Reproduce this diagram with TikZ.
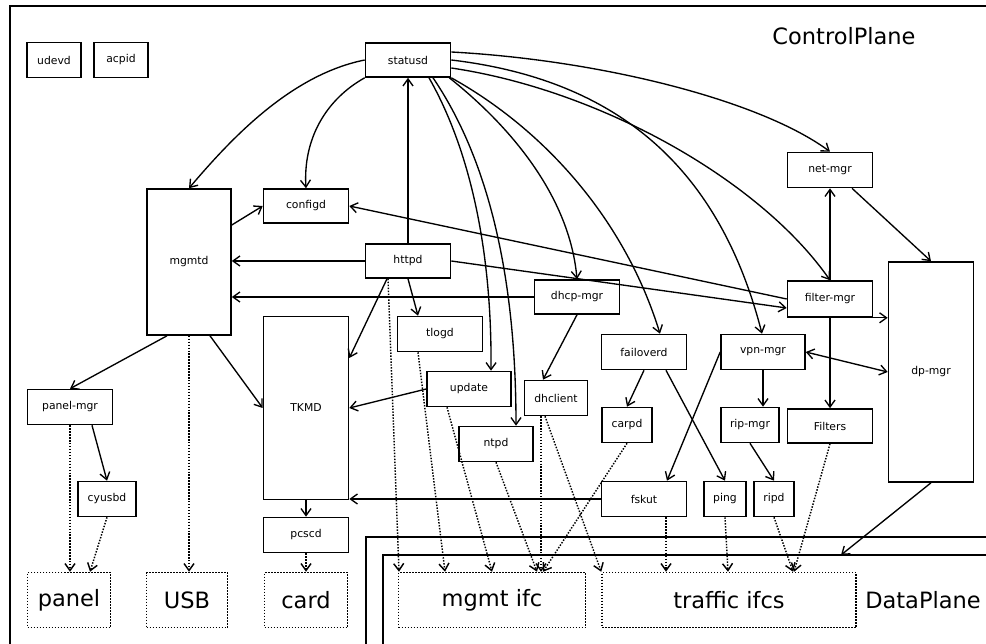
\documentclass[tikz,border=0pt]{standalone}
\usepackage{fontspec}
\setmainfont{DejaVu Sans}
\usetikzlibrary{arrows.meta,calc}
\begin{document}
\begin{tikzpicture}[x=1pt,y=-1pt,
 box/.style={draw, line width=1.6pt, inner sep=0pt, font=\fontsize{10.8}{12}\selectfont, minimum height=35pt, minimum width=85pt},
 dbox/.style={draw, line width=1.5pt, dash pattern=on 1.5pt off 1.5pt, inner sep=0pt, minimum height=55pt, font=\fontsize{22.5}{26}\selectfont},
 big/.style={inner sep=0pt, font=\fontsize{22.5}{26}\selectfont},
 conn/.style={line width=1.35pt, -{Straight Barb[length=7pt,width=10pt]}},
 dconn/.style={line width=1.45pt, dash pattern=on 1.45pt off 1.5pt, -{Straight Barb[length=7pt,width=10pt]}},
 bconn/.style={line width=1.35pt, {Straight Barb[length=7pt,width=10pt]}-{Straight Barb[length=7pt,width=10pt]}},
 plane/.style={draw, line width=1.6pt}
]
\useasboundingbox (0,0) rectangle (986,644);
\fill[white] (0,0) rectangle (986,644);
\clip (0,0) rectangle (986,644);

% planes
\draw[plane] (10,6) rectangle (1010,700);
\draw[plane] (366,537) rectangle (1010,700);
\draw[plane] (383,555) rectangle (1010,700);
\coordinate (dpin) at (841,555);
\node[big] (cplabel) at (844,36) {ControlPlane};
\node[big] (dplabel) at (923,600) {DataPlane};

% nodes
\node[box, minimum width=54pt] (udevd) at (54,60) {udevd};
\node[box, minimum width=54pt] (acpid) at (121,60) {acpid};
\node[box, minimum height=34pt] (statusd) at (408,60) {statusd};
\node[box] (netmgr) at (830,170) {net-mgr};
\node[box, minimum height=34pt] (configd) at (306,206) {configd};
\node[box, minimum width=84pt, minimum height=146pt] (mgmtd) at (189,262) {mgmtd};
\node[box, minimum height=34pt] (httpd) at (408,261) {httpd};
\node[box] (tlogd) at (440,334) {tlogd};
\node[box, minimum height=34pt] (dhcpmgr) at (577,297) {dhcp-mgr};
\node[box, minimum height=183pt] (tkmd) at (306,408) {TKMD};
\node[box, minimum width=84pt] (update) at (469,389) {update};
\node[box, minimum width=63pt] (dhclient) at (556,398) {dhclient};
\node[box, minimum width=74pt] (ntpd) at (496,444) {ntpd};
\node[box] (failoverd) at (644,352) {failoverd};
\node[box, minimum width=84pt] (vpnmgr) at (763,352) {vpn-mgr};
\node[box, minimum width=50pt] (carpd) at (627,425) {carpd};
\node[box, minimum width=58pt] (ripmgr) at (750,425) {rip-mgr};
\node[box, minimum height=34pt] (filters) at (830,426) {Filters};
\node[box] (fskut) at (644,499) {fskut};
\node[box, minimum width=42pt] (ping) at (725,499) {ping};
\node[box, minimum width=40pt] (ripd) at (774,499) {ripd};
\node[box, minimum height=36pt] (filtermgr) at (830,299) {filter-mgr};
\node[box, minimum height=220pt] (dpmgr) at (931,372) {dp-mgr};
\node[box] (panelmgr) at (70,407) {panel-mgr};
\node[box, minimum width=58pt] (cyusbd) at (107,499) {cyusbd};
\node[box] (pcscd) at (306,535) {pcscd};
\node[dbox, minimum width=83pt] (panel) at (69,600) {panel};
\node[dbox, minimum width=81pt] (usb) at (187,600) {USB};
\node[dbox, minimum width=83pt] (card) at (306,600) {card};
\node[dbox, minimum width=187pt] (mgmtifc) at (492,600) {mgmt ifc};
\node[dbox, minimum width=254pt] (trafficifcs) at (729,600) {traffic ifcs};

% statusd curves
\draw[conn] (statusd.west) .. controls (290,75) and (230,140) .. (mgmtd.north);
\draw[conn] (statusd.south west) .. controls (325,100) and (303,140) .. (configd.north);
\draw[conn] (httpd.north) -- (statusd.south);
\draw[conn] ([xshift=21pt]statusd.south) .. controls (470,150) and (492,250) .. ([xshift=22pt]update.north);
\draw[conn] ([xshift=25pt]statusd.south) .. controls (482,150) and (516,260) .. ([xshift=20pt]ntpd.north);
\draw[conn] ([xshift=-2pt]statusd.south east) .. controls (515,130) and (570,200) .. (dhcpmgr.north);
\draw[conn] (statusd.south east) .. controls (545,130) and (625,220) .. ([xshift=16pt]failoverd.north);
\draw[conn] (statusd.east) .. controls (620,80) and (720,170) .. ([xshift=-1pt]vpnmgr.north);
\draw[conn] ([yshift=-8pt]statusd.east) .. controls (600,90) and (760,180) .. (filtermgr.north);
\draw[conn] ([yshift=8pt]statusd.east) .. controls (600,60) and (760,100) .. (netmgr.north);

% mgmtd / httpd area
\draw[conn] ([yshift=37pt]mgmtd.east) -- (configd.west);
\draw[conn] (httpd.west) -- (httpd.west -| mgmtd.east);
\draw[conn] (dhcpmgr.west) -- (dhcpmgr.west -| mgmtd.east);
\draw[conn] (filtermgr.west) -- (configd.east);
\draw[conn] (httpd.east) -- ([yshift=-9pt]filtermgr.west);
\draw[conn] ([xshift=-21pt]httpd.south) -- ([yshift=50pt]tkmd.east);
\draw[conn] (httpd.south) -- ([xshift=-22pt]tlogd.north);
\draw[conn] ([xshift=-22pt]mgmtd.south) -- (panelmgr.north);
\draw[conn] ([xshift=21pt]mgmtd.south) -- (tkmd.west);
\draw[conn] ([xshift=22pt]panelmgr.south) -- (cyusbd.north);
\draw[conn] (tkmd.south) -- (pcscd.north);
\draw[conn] (update.west) -- (tkmd.east);
\draw[conn] (fskut.west) -- (fskut.west -| tkmd.east);
\draw[conn] (dhcpmgr.south) -- ([xshift=-13pt]dhclient.north);

% right side
\draw[conn] ([xshift=22pt]netmgr.south) -- (dpmgr.north);
\draw[conn] (filtermgr.north) -- (netmgr.south);
\draw[conn] (filtermgr.south east) -- (filtermgr.south east -| dpmgr.west);
\draw[conn] (filtermgr.south) -- (filters.north);
\draw[bconn] (vpnmgr.east) -- (dpmgr.west);
\draw[conn] (vpnmgr.south) -- (vpnmgr.south |- ripmgr.north);
\draw[conn] (vpnmgr.west) -- ([xshift=23pt]fskut.north);
\draw[conn] (failoverd.south) -- (carpd.north);
\draw[conn] ([xshift=22pt]failoverd.south) -- (ping.north);
\draw[conn] (ripmgr.south) -- (ripd.north);
\draw[conn] (dpmgr.south) -- (dpin);

% dotted connectors
\draw[dconn] ([xshift=-20pt]httpd.south) -- ([xshift=-93pt]mgmtifc.north);
\draw[dconn] ([xshift=-22pt]tlogd.south) -- ([xshift=-47pt]mgmtifc.north);
\draw[dconn] ([xshift=-22pt]update.south) -- (mgmtifc.north);
\draw[dconn] (ntpd.south) -- ([xshift=45pt]mgmtifc.north);
\draw[dconn] ([xshift=-15pt]dhclient.south) -- ([xshift=49pt]mgmtifc.north);
\draw[dconn] ([xshift=-11pt]dhclient.south) -- (trafficifcs.north west);
\draw[dconn] (carpd.south) -- ([xshift=51pt]mgmtifc.north);
\draw[dconn] (mgmtd.south) -- (mgmtd.south |- usb.north);
\draw[dconn] (panelmgr.south) -- (panelmgr.south |- panel.north);
\draw[dconn] (cyusbd.south) -- ([xshift=21pt]panel.north);
\draw[dconn] (pcscd.south) -- (card.north);
\draw[dconn] ([xshift=22pt]fskut.south) -- ([xshift=22pt]fskut.south |- trafficifcs.north);
\draw[dconn] (ping.south) -- ([xshift=-1pt]trafficifcs.north);
\draw[dconn] (ripd.south) -- ([xshift=64pt]trafficifcs.north);
\draw[dconn] (filters.south) -- ([xshift=65pt]trafficifcs.north);
\end{tikzpicture}
\end{document}
